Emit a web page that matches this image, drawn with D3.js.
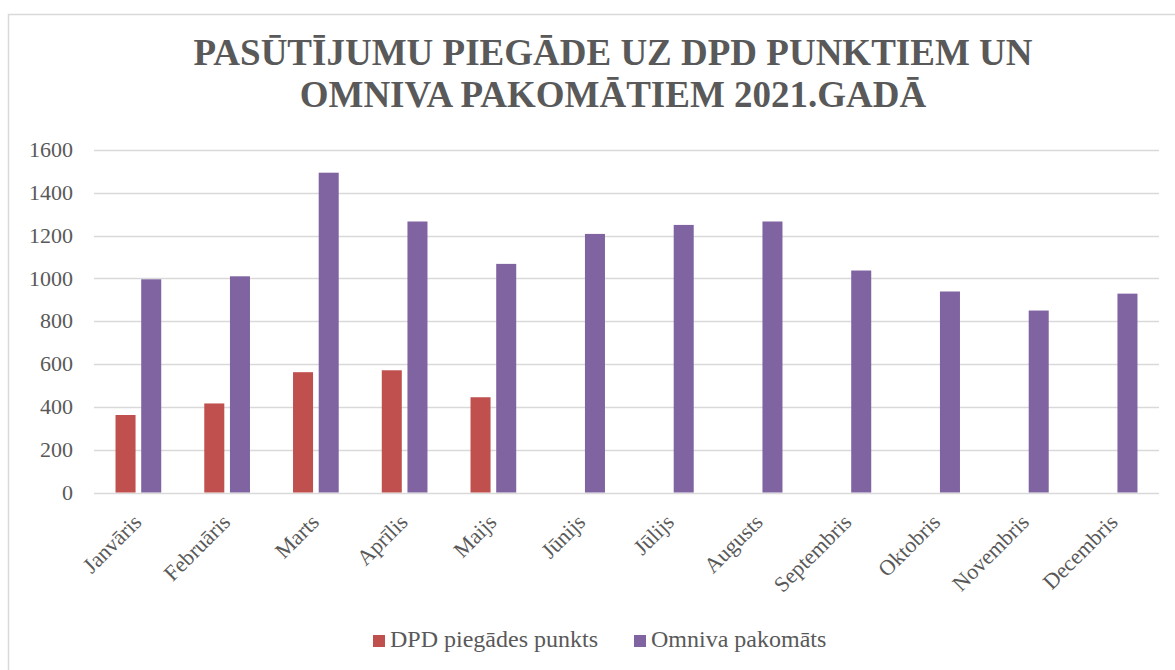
<!DOCTYPE html>
<html>
<head>
<meta charset="utf-8">
<script src="https://cdn.jsdelivr.net/npm/d3@7"></script>
<style>
	body { margin: 0; background: #fff; }
</style>
</head>
<body>
<div id="viz"></div>
<script>
var width = 1175;
var height = 670;
var serif = "'Liberation Serif', Tinos, 'Times New Roman', 'DejaVu Serif', serif";

var months = ["Janvāris", "Februāris", "Marts", "Aprīlis", "Maijs", "Jūnijs", "Jūlijs", "Augusts", "Septembris", "Oktobris", "Novembris", "Decembris"];
var dpd = [362, 416, 562, 571, 445, null, null, null, null, null, null, null];
var omniva = [996, 1010, 1494, 1266, 1068, 1208, 1250, 1266, 1037, 939, 850, 929];
var series = ["DPD piegādes punkts", "Omniva pakomāts"];
var colors = ["#C0504D", "#8064A2"];
var yTicks = [0, 200, 400, 600, 800, 1000, 1200, 1400, 1600];
var titleLines = ["PASŪTĪJUMU PIEGĀDE UZ DPD PUNKTIEM UN", "OMNIVA PAKOMĀTIEM 2021.GADĀ"];

var svg = d3.select("#viz").append("svg")
	.attr("width", width)
	.attr("height", height)
	.style("font-family", serif);

// chart area border (only left/top visible)
svg.append("rect")
	.attr("x", 8.5).attr("y", 14.5)
	.attr("width", 1250).attr("height", 700)
	.attr("fill", "#fff")
	.attr("stroke", "#D9D9D9")
	.attr("stroke-width", 1.5);

svg.selectAll(".title")
		.data(titleLines)
	.enter().append("text")
		.attr("class", "title")
		.attr("x", 613)
		.attr("y", function(d, i) { return 65 + i * 42; })
		.attr("text-anchor", "middle")
		.attr("fill", "#595959")
		.style("font-family", serif)
		.style("font-size", "37px")
		.style("font-weight", "bold")
		.text(function(d) { return d; });

var x0 = d3.scaleBand()
	.domain(months)
	.range([94, 1159]);

var groupW = 45.7;
var x1 = d3.scaleBand()
	.domain(series)
	.range([(x0.bandwidth() - groupW) / 2, (x0.bandwidth() + groupW) / 2])
	.paddingInner(0.22);

var y = d3.scaleLinear()
	.domain([0, 1600])
	.range([492.5, 150]);

// gridlines
svg.append("g")
	.selectAll("line")
	.data(yTicks)
	.enter().append("line")
		.attr("x1", 94).attr("x2", 1159)
		.attr("y1", function(d) { return Math.round(y(d)) + 0.5; })
		.attr("y2", function(d) { return Math.round(y(d)) + 0.5; })
		.attr("stroke", "#D9D9D9")
		.attr("stroke-width", 1.5);

var yAxis = svg.append("g")
	.attr("transform", "translate(73,0)")
	.call(d3.axisLeft(y).tickValues(yTicks).tickSize(0).tickPadding(0).tickFormat(d3.format("d")));
yAxis.attr("font-family", null).attr("font-size", null);
yAxis.select(".domain").remove();
yAxis.selectAll("text")
	.style("font-size", "22px")
	.style("font-family", serif)
	.attr("fill", "#595959")
	.attr("dy", "0.3em");

var rows = months.map(function(m, i) { return { month: m, values: [dpd[i], omniva[i]] }; });

var groups = svg.selectAll(".month")
		.data(rows)
	.enter().append("g")
		.attr("class", "month")
		.attr("transform", function(d) { return "translate(" + x0(d.month) + ",0)"; });

groups.selectAll("rect")
		.data(function(d) { return d.values.map(function(v, i) { return { key: series[i], value: v, i: i }; }).filter(function(d) { return d.value != null; }); })
	.enter().append("rect")
		.attr("x", function(d) { return x1(d.key); })
		.attr("width", x1.bandwidth())
		.attr("y", function(d) { return y(d.value); })
		.attr("height", function(d) { return y(0) - y(d.value); })
		.attr("fill", function(d) { return colors[d.i]; });

// month labels
svg.selectAll(".mlabel")
		.data(months)
	.enter().append("text")
		.attr("class", "mlabel")
		.attr("text-anchor", "end")
		.attr("transform", function(d) { return "translate(" + (x0(d) + x0.bandwidth() / 2 - 1) + ",518) rotate(-45)"; })
		.attr("dy", "0.35em")
		.attr("fill", "#595959")
		.style("font-family", serif)
		.style("font-size", "22px")
		.text(function(d) { return d; });

// legend
var legendX = [373, 634];
var legend = svg.selectAll(".legend")
		.data(series)
	.enter().append("g")
		.attr("class", "legend")
		.attr("transform", function(d, i) { return "translate(" + legendX[i] + ",635)"; });

legend.append("rect")
	.attr("width", 12).attr("height", 12)
	.attr("fill", function(d, i) { return colors[i]; });

legend.append("text")
	.attr("x", 17)
	.attr("y", 12)
	.attr("fill", "#595959")
	.style("font-family", serif)
	.style("font-size", "24px")
	.text(function(d) { return d; });
</script>
</body>
</html>
